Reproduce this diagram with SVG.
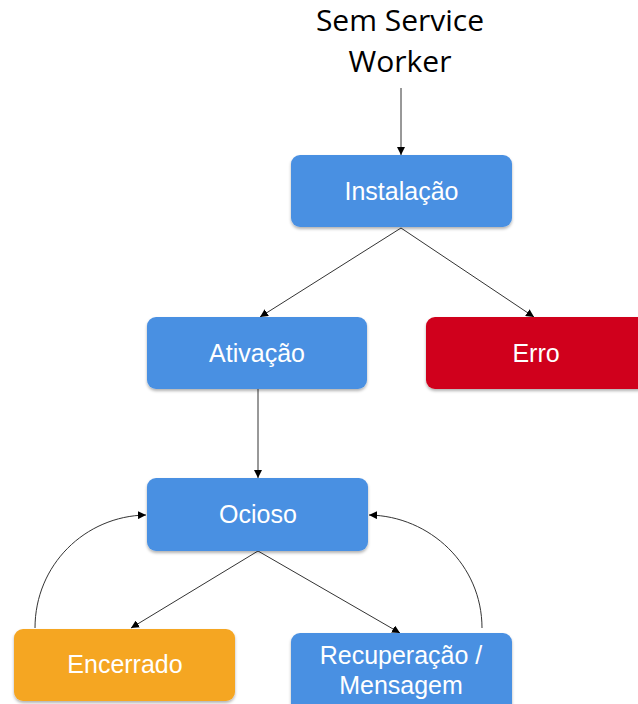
<svg xmlns="http://www.w3.org/2000/svg" width="638" height="704" viewBox="0 0 638 704">
  <defs>
    <filter id="shadow" x="-10%" y="-10%" width="120%" height="130%">
      <feDropShadow dx="0" dy="2" stdDeviation="1.5" flood-color="#000" flood-opacity="0.3"/>
    </filter>
    <marker id="arrow" viewBox="0 0 10 10" refX="10" refY="5" markerWidth="8" markerHeight="8" markerUnits="userSpaceOnUse" orient="auto">
      <path d="M0,0 L10,5 L0,10 z" fill="#000"/>
    </marker>
  </defs>
  <style>
    .box { filter: url(#shadow); }
    .blue { fill: #4A90E2; }
    .red { fill: #D0021B; }
    .orange { fill: #F5A623; }
    .label { font-family: "Liberation Sans", Arial, sans-serif; font-size: 25px; fill: #fff; text-anchor: middle; }
    .title { font-family: "Open Sans", "Liberation Sans", sans-serif; font-size: 30px; fill: #000; text-anchor: middle; }
    .edge { fill: none; stroke: #333; stroke-width: 1; marker-end: url(#arrow); }
  </style>
  <rect width="638" height="704" fill="#fff"/>

  <g id="start">
    <text class="title" x="400" y="31">Sem Service</text>
    <text class="title" x="400" y="72">Worker</text>
  </g>

  <g id="connectors">
    <path class="edge" d="M401,88 L401,155"/>
    <path class="edge" d="M401,228 L260,317"/>
    <path class="edge" d="M401,228 L534,317"/>
    <path class="edge" d="M258,389 L258,478"/>
    <path class="edge" d="M258,551 L131,628"/>
    <path class="edge" d="M258,551 L400,633"/>
    <path class="edge" d="M35,628 C35,565 85,516 146,515"/>
    <path class="edge" d="M482,628 C482,565 430,516 369,515"/>
  </g>

  <g id="instalacao">
    <rect class="box blue" x="291" y="155" width="221" height="72" rx="9"/>
    <text class="label" x="401.5" y="200">Instalação</text>
  </g>
  <g id="ativacao">
    <rect class="box blue" x="147" y="317" width="220" height="72" rx="9"/>
    <text class="label" x="257" y="362">Ativação</text>
  </g>
  <g id="erro">
    <rect class="box red" x="426" y="317" width="221" height="72" rx="9"/>
    <text class="label" x="536" y="362">Erro</text>
  </g>
  <g id="ocioso">
    <rect class="box blue" x="147" y="478" width="221" height="73" rx="9"/>
    <text class="label" x="258" y="523">Ocioso</text>
  </g>
  <g id="encerrado">
    <rect class="box orange" x="14" y="629" width="221" height="72" rx="9"/>
    <text class="label" x="125" y="673">Encerrado</text>
  </g>
  <g id="recuperacao">
    <rect class="box blue" x="291" y="633" width="221" height="80" rx="9"/>
    <text class="label" x="401" y="664">Recuperação /</text>
    <text class="label" x="401" y="694">Mensagem</text>
  </g>
</svg>
